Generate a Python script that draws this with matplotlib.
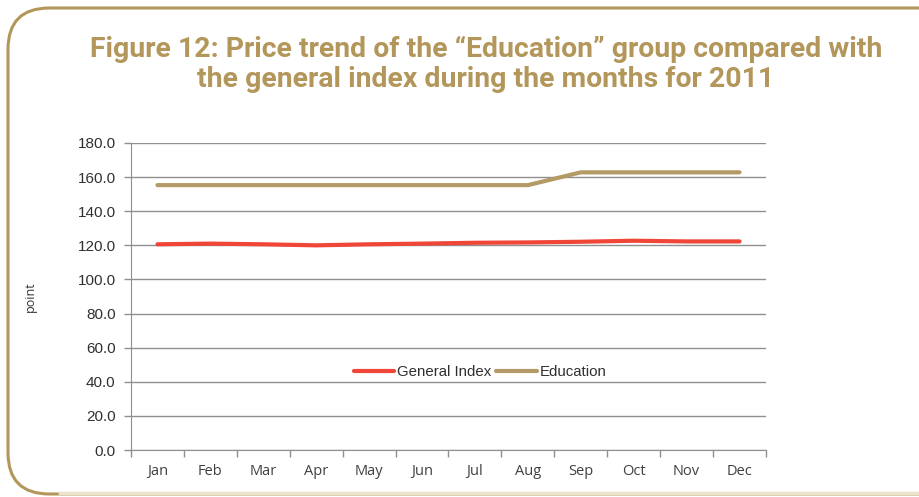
import numpy as np
import matplotlib.pyplot as plt
from matplotlib.patches import FancyBboxPatch

# data
months = ['Jan', 'Feb', 'Mar', 'Apr', 'May', 'Jun', 'Jul', 'Aug', 'Sep', 'Oct', 'Nov', 'Dec']
general_index = [120.6, 121.0, 120.6, 120.0, 120.6, 121.0, 121.5, 121.7, 122.1, 122.7, 122.3, 122.3]
education = [155.3, 155.3, 155.3, 155.3, 155.3, 155.3, 155.3, 155.3, 162.8, 162.8, 162.8, 162.8]

red = '#ef4638'
gold = '#b49a66'
frame_col = '#b3965a'
grid_col = '#8f8f8f'

fig = plt.figure(figsize=(9.2, 4.97), dpi=100)

# rounded frame around the whole figure
frame = FancyBboxPatch((8 / 920, 3 / 497), 1.2, 486 / 497,
                       boxstyle='round,pad=0,rounding_size=0.045',
                       transform=fig.transFigure, facecolor='white',
                       edgecolor=frame_col, linewidth=2.2, zorder=-2,
                       mutation_aspect=920 / 497)
fig.add_artist(frame)
fig.add_artist(plt.Line2D([60 / 920, 1], [4 / 497, 4 / 497], transform=fig.transFigure,
                          color='#ece3cf', linewidth=2.5, zorder=-1))

fig.text(0.528, 0.87, 'Figure 12: Price trend of the \u201cEducation\u201d group compared with\n'
         'the general index during the months for 2011',
         ha='center', va='center', fontsize=20.4, fontweight='bold', color=frame_col,
         family=['Liberation Sans Narrow', 'Roboto'], linespacing=1.12)

ax = fig.add_axes([131 / 920, 47 / 497, 635 / 920, 307 / 497])
ax.set_facecolor('none')
x = np.arange(len(months))
ax.plot(x, general_index, color=red, linewidth=3.0, label='General Index', solid_capstyle='round')
ax.plot(x, education, color=gold, linewidth=3.0, label='Education', solid_capstyle='round')

ax.set_xlim(-0.5, len(months) - 0.5)
ax.set_ylim(0, 180)
ax.set_yticks(np.arange(0, 181, 20))
ax.set_yticklabels([f'{v:.1f}' for v in np.arange(0, 181, 20)])
ax.set_xticks(x)
ax.set_xticklabels(months)
ax.set_xticks(np.arange(-0.5, len(months)), minor=True)
ax.tick_params(axis='x', which='major', length=0, pad=10, labelsize=10.5, labelcolor='#404040')
ax.tick_params(axis='x', which='minor', length=5, color=grid_col, width=1)
ax.tick_params(axis='y', length=5, color=grid_col, width=1, labelsize=11, labelcolor='#303030', pad=6)
for lab in ax.get_xticklabels():
    lab.set_family(['Open Sans', 'DejaVu Sans'])
for lab in ax.get_yticklabels():
    lab.set_family(['Liberation Sans', 'DejaVu Sans'])

ax.grid(axis='y', color=grid_col, linewidth=1)
ax.set_axisbelow(True)
for side in ['top', 'right']:
    ax.spines[side].set_visible(False)
ax.spines['left'].set_color(grid_col)
ax.spines['bottom'].set_color(grid_col)

ax.set_ylabel('point', fontsize=9, color='#333333', labelpad=29,
              family=['Open Sans', 'DejaVu Sans'])

leg = ax.legend(loc='center', bbox_to_anchor=(0.55, 0.254), ncol=2, frameon=False,
                handlelength=2.7, handletextpad=0.2, columnspacing=0.3,
                prop={'family': ['Liberation Sans', 'DejaVu Sans'], 'size': 10.8})
for t in leg.get_texts():
    t.set_color('#303030')

fig.savefig('out.png', dpi=100)
